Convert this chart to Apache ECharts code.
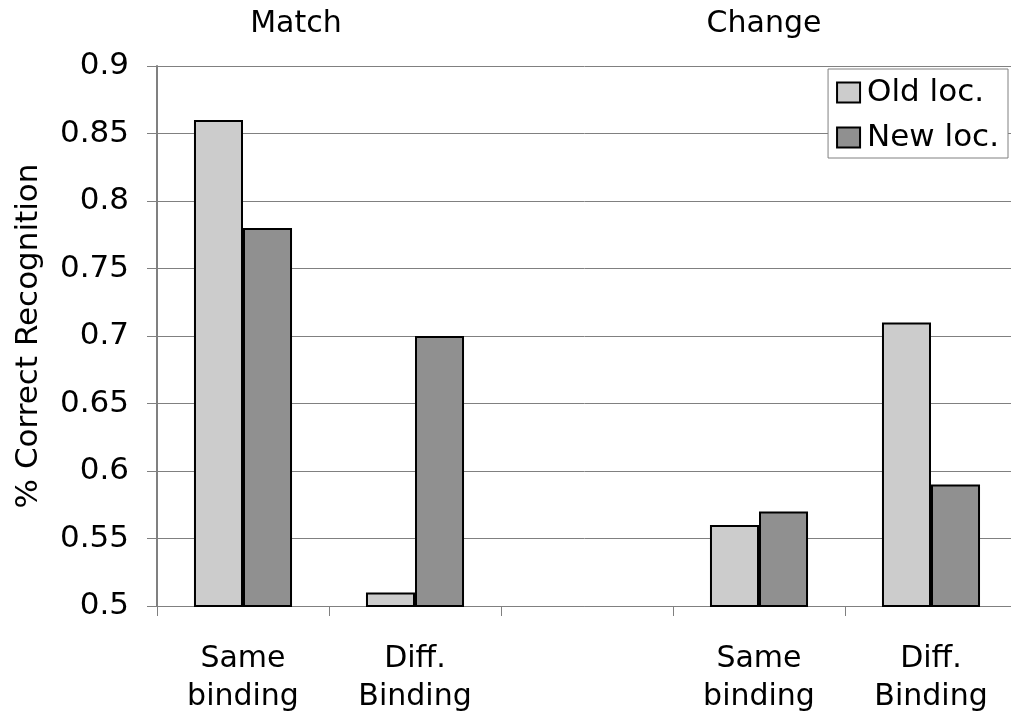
<!DOCTYPE html>
<html><head><meta charset="utf-8">
<script src="https://cdn.jsdelivr.net/npm/echarts@6/dist/echarts.min.js"></script>
<style>html,body{margin:0;padding:0;background:#fff}#c{width:1011px;height:717px}</style>
</head><body><div id="c"></div>
<script>
var categories = ['Same\nbinding', 'Diff.\nBinding', '', 'Same\nbinding', 'Diff.\nBinding'];
var oldLoc = [0.86, 0.51, null, 0.56, 0.71];
var newLoc = [0.78, 0.70, null, 0.57, 0.59];
var seriesNames = ['Old loc.', 'New loc.'];
var groupTitles = ['Match', 'Change'];
var font = 'DejaVu Sans';
var chart = echarts.init(document.getElementById('c'));
chart.setOption({
  animation: false,
  backgroundColor: '#fff',
  textStyle: {fontFamily: font},
  title: [
    {text: groupTitles[0], left: 291, top: 4, textAlign: 'center', textStyle: {fontFamily: font, fontSize: 30, fontWeight: 'normal', color: '#000'}},
    {text: groupTitles[1], left: 759, top: 4, textAlign: 'center', textStyle: {fontFamily: font, fontSize: 30, fontWeight: 'normal', color: '#000'}}
  ],
  legend: {
    right: 3, top: 69, orient: 'vertical', itemWidth: 23, itemHeight: 20, itemGap: 14,
    padding: [8, 9, 5, 8],
    borderColor: '#808080', borderWidth: 1, backgroundColor: '#fff',
    textStyle: {fontFamily: font, fontSize: 31, color: '#000', padding: [0,0,0,2]},
    itemStyle: {borderColor: '#000', borderWidth: 2},
    data: seriesNames, icon: 'rect'
  },
  grid: {left: 157, right: -6, top: 66, bottom: 111, containLabel: false, outerBoundsMode: 'none'},
  xAxis: {
    type: 'category', data: categories,
    axisLine: {lineStyle: {color: '#808080', width: 1}},
    axisTick: {show: true, length: 10, lineStyle: {color: '#808080'}},
    axisLabel: {fontFamily: font, fontSize: 30, color: '#000', lineHeight: 38, margin: 34, interval: 0}
  },
  yAxis: {
    type: 'value', min: 0.5, max: 0.9, interval: 0.05,
    name: '% Correct Recognition', nameLocation: 'middle', nameGap: 113,
    nameTextStyle: {fontFamily: font, fontSize: 31, color: '#000'},
    axisLine: {show: true, lineStyle: {color: '#808080', width: 2}},
    axisTick: {show: true, length: 10, lineStyle: {color: '#808080'}},
    axisLabel: {fontFamily: font, fontSize: 31, color: '#000', margin: 28,
      formatter: function (v) { return String(parseFloat(v.toFixed(2))); }},
    splitLine: {lineStyle: {color: '#808080', width: 1}}
  },
  series: [
    {name: seriesNames[0], type: 'bar', data: oldLoc, barGap: '0%', barCategoryGap: '43%',
     itemStyle: {color: '#cccccc', borderColor: '#000', borderWidth: 2}},
    {name: seriesNames[1], type: 'bar', data: newLoc, barGap: '0%', barCategoryGap: '43%',
     itemStyle: {color: '#909090', borderColor: '#000', borderWidth: 2}}
  ]
});
</script></body></html>
